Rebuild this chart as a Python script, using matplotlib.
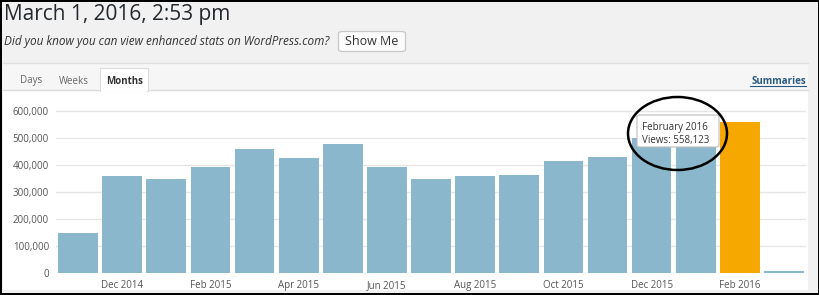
import numpy as np
import matplotlib
matplotlib.use('Agg')
import matplotlib.pyplot as plt
from matplotlib.patches import Rectangle, FancyBboxPatch, Ellipse
from matplotlib.lines import Line2D

plt.rcParams['font.family'] = ['Open Sans', 'DejaVu Sans']

# monthly views, Nov 2014 .. Mar 2016
months = ['Nov 2014', 'Dec 2014', 'Jan 2015', 'Feb 2015', 'Mar 2015', 'Apr 2015',
          'May 2015', 'Jun 2015', 'Jul 2015', 'Aug 2015', 'Sep 2015', 'Oct 2015',
          'Nov 2015', 'Dec 2015', 'Jan 2016', 'Feb 2016', 'Mar 2016']
views = [148000, 359000, 348000, 393000, 460000, 426000,
         478000, 393000, 346000, 360000, 362000, 415000,
         430000, 498000, 505000, 558123, 9000]
highlight = 'Feb 2016'
yticks = [0, 100000, 200000, 300000, 400000, 500000, 600000]

W, H = 820, 295
fig = plt.figure(figsize=(W / 100, H / 100), dpi=100, facecolor='black')


def px(x, y):
    # pixel position (from top-left) -> figure fraction
    return x / W, 1 - y / H


def rect(x0, y0, x1, y1, **kw):
    kw.setdefault('zorder', -5)
    r = Rectangle(px(x0, y1), (x1 - x0) / W, (y1 - y0) / H, transform=fig.transFigure, **kw)
    fig.add_artist(r)
    return r


def hline(x0, x1, y, color, lw=1, z=-4):
    fig.add_artist(Line2D([x0 / W, x1 / W], [1 - y / H, 1 - y / H], color=color, lw=lw,
                          transform=fig.transFigure, zorder=z))


# page background and panels
rect(2.5, 2, 818, 292.5, facecolor='#f1f1f1', edgecolor='none')
rect(3, 63, 808, 90, facecolor='#f6f6f6', edgecolor='none')
hline(3, 808, 63, '#dedede')
rect(3, 90, 808, 290, facecolor='white', edgecolor='none')
hline(3, 808, 90.5, '#dcdcdc')
rect(100, 67.5, 148, 91, facecolor='white', edgecolor='#dcdcdc', lw=0.8, zorder=-3)
rect(100.6, 89, 147.4, 92, facecolor='white', edgecolor='none', zorder=-2)

# header texts
fig.text(*px(4, 20), 'March 1, 2016, 2:53 pm', fontsize=15, color='#23282d', va='baseline')
fig.text(*px(4, 45), 'Did you know you can view enhanced stats on WordPress.com?',
         fontsize=8.5, style='italic', color='#333333', va='baseline')
btn = FancyBboxPatch(px(338.5, 51.5), 67 / W, 20 / H, boxstyle='round,pad=0,rounding_size=0.006',
                     transform=fig.transFigure, facecolor='#fbfbfb', edgecolor='#c8c8c8', lw=0.9,
                     zorder=-3)
fig.add_artist(btn)
fig.text(*px(372, 45), 'Show Me', fontsize=9, color='#333333', ha='center', va='baseline')

fig.text(*px(31.5, 83.5), 'Days', fontsize=7, color='#666666', ha='center', va='baseline')
fig.text(*px(74, 83.5), 'Weeks', fontsize=7, color='#666666', ha='center', va='baseline')
fig.text(*px(124.5, 83.5), 'Months', fontsize=7, color='#333333', ha='center', va='baseline',
         fontweight='bold')
fig.text(*px(806, 83.5), 'Summaries', fontsize=7, color='#2b5b84', ha='right', va='baseline',
         fontweight='bold')
hline(750.5, 806, 85.8, '#2b5b84', lw=0.8)

# chart
ax = fig.add_axes([56 / W, (H - 273) / H, 750 / W, 180 / H])
ax.patch.set_alpha(0)
x = np.arange(len(months))
colors = ['#f7a800' if m == highlight else '#8ab7cb' for m in months]
ax.bar(x, views, width=0.9, color=colors, zorder=2)
ax.set_xlim(-0.5, len(months) - 0.5)
ax.set_ylim(0, 665400)
ax.set_yticks(yticks)
ax.set_yticklabels(['{:,}'.format(v) for v in yticks])
ax.set_xticks(x[1::2])
ax.set_xticklabels(months[1::2])
ax.grid(axis='y', color='#e6e6e6', lw=1)
ax.set_axisbelow(True)
for s in ax.spines.values():
    s.set_visible(False)
ax.tick_params(length=0, labelsize=7, colors='#555555')
ax.tick_params(axis='y', pad=5)
ax.tick_params(axis='x', pad=5)

# tooltip for highlighted month
i = months.index(highlight)
tip = FancyBboxPatch(px(637, 147), 82 / W, 32 / H, boxstyle='round,pad=0,rounding_size=0.004',
                     transform=fig.transFigure, facecolor='white', edgecolor='#bdbdbd', lw=0.8,
                     zorder=5)
fig.add_artist(tip)
fig.text(*px(642, 129.5), 'February 2016', fontsize=7, color='#333333',
         va='baseline', zorder=6)
fig.text(*px(642, 143.5), 'Views: {:,}'.format(views[i]), fontsize=7, color='#333333',
         va='baseline', zorder=6)
circ = Ellipse(px(677.5, 133.5), 99 / W, 73 / H, transform=fig.transFigure, fill=False,
               edgecolor='black', lw=1.8, zorder=7)
fig.add_artist(circ)

fig.savefig('out.png', dpi=100, facecolor=fig.get_facecolor())
